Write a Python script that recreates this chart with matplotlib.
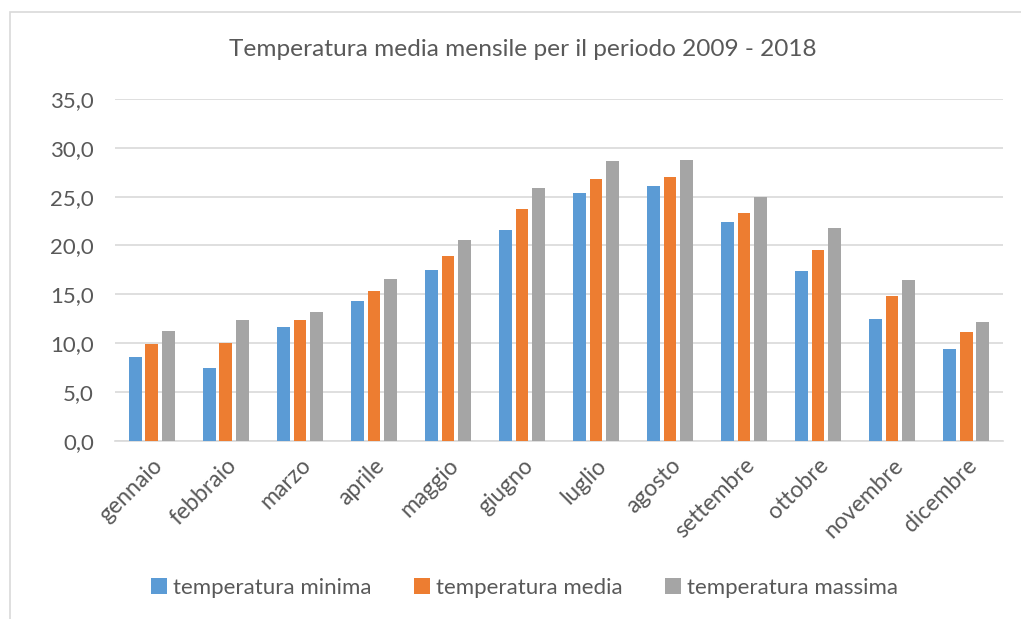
import numpy as np
import matplotlib
matplotlib.use("Agg")
import matplotlib.pyplot as plt
from matplotlib.patches import Rectangle
from matplotlib.ticker import FuncFormatter

mesi = ["gennaio", "febbraio", "marzo", "aprile", "maggio", "giugno",
        "luglio", "agosto", "settembre", "ottobre", "novembre", "dicembre"]
t_min = [8.6, 7.5, 11.7, 14.3, 17.5, 21.6, 25.4, 26.1, 22.4, 17.4, 12.5, 9.4]
t_med = [9.9, 10.0, 12.4, 15.3, 18.9, 23.7, 26.8, 27.0, 23.3, 19.5, 14.8, 11.1]
t_max = [11.2, 12.4, 13.2, 16.6, 20.6, 25.9, 28.7, 28.8, 25.0, 21.8, 16.5, 12.2]

plt.rcParams['font.family'] = ['Lato', 'DejaVu Sans']
testo = '#595959'

fig = plt.figure(figsize=(10.21, 6.19), dpi=100)
ax = fig.add_axes([0.1126, 0.288, 0.8698, 0.552])

# cornice del grafico
fig.patches.append(Rectangle((10/1021, -0.1), 1.2, 1.1 - 12/619, transform=fig.transFigure,
                             fill=False, edgecolor='#D9D9D9', linewidth=1.2))

x = np.arange(len(mesi))
w = 0.175
d = 0.22
ax.bar(x - d, t_min, w, color='#5B9BD5', label='temperatura minima', zorder=3)
ax.bar(x, t_med, w, color='#ED7D31', label='temperatura media', zorder=3)
ax.bar(x + d, t_max, w, color='#A5A5A5', label='temperatura massima', zorder=3)

ax.set_xlim(-0.5, len(mesi) - 0.5)
ax.set_ylim(0, 35)
ax.set_yticks(np.arange(0, 36, 5))
ax.yaxis.set_major_formatter(FuncFormatter(lambda v, p: f"{v:.1f}".replace('.', ',')))
ax.grid(axis='y', color='#D9D9D9', linewidth=1.2, zorder=0)
for s in ['top', 'right', 'left']:
    ax.spines[s].set_visible(False)
ax.spines['bottom'].set_color('#D9D9D9')
ax.spines['bottom'].set_linewidth(1.2)
ax.tick_params(axis='both', length=0, colors=testo)
ax.tick_params(axis='y', pad=15, labelsize=16)
ax.tick_params(axis='x', pad=10, labelsize=16.5)
ax.set_xticks(x)
ax.set_xticklabels(mesi, rotation=45, ha='right', rotation_mode='anchor')

fig.text(0.512, 1 - 50/619, "Temperatura media mensile per il periodo 2009 - 2018",
         ha='center', va='center', fontsize=17.6, color=testo)

leg = fig.legend(loc='center', bbox_to_anchor=(0.514, 1 - 588/619), ncol=3, frameon=False,
                 fontsize=16, handlelength=0.7, handleheight=0.7, columnspacing=1.9,
                 handletextpad=0.3)
for t in leg.get_texts():
    t.set_color(testo)

fig.savefig("out.png", dpi=100, facecolor='white')
